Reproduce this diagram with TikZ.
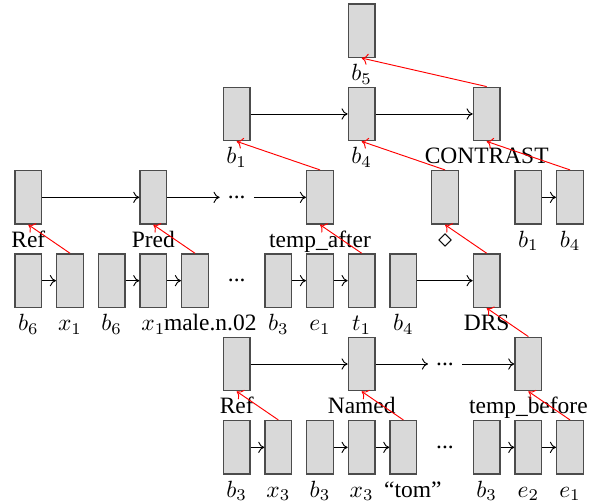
\documentclass[tikz,border=0pt]{standalone}
\usepackage{fontspec}
\setmainfont{Liberation Serif}
\usetikzlibrary{arrows.meta}
\begin{document}
\begin{tikzpicture}[x=17.76pt, y=-35.52pt,
  blk/.style={draw=black!70, line width=0.6pt, fill=black!15, minimum width=0.4cm, minimum height=0.8cm, inner sep=0pt},
  lab/.style={anchor=base, inner sep=0pt},
  dotsnode/.style={inner sep=3.33pt},
  link/.style={-{To[length=2.6pt,width=4.8pt]}},
  up/.style={-{To[length=2.6pt,width=4.8pt]}, red}]
\useasboundingbox (-0.6804,-0.368) rectangle (13.527,5.656);

% ---- row 0
\node[blk] (b5) at (8,0) {};
% ---- row 1
\node[blk] (r1a) at (5,1) {};
\node[blk] (r1b) at (8,1) {};
\node[blk] (r1c) at (11,1) {};
% ---- row 2
\node[blk] (ref1) at (0,2) {};
\node[blk] (pred) at (3,2) {};
\node[dotsnode] (d2) at (5,2) {...};
\node[blk] (tafter) at (7,2) {};
\node[blk] (dia) at (10,2) {};
\node[blk] (cb1) at (12,2) {};
\node[blk] (cb4) at (13,2) {};
% ---- row 3
\node[blk] (a0) at (0,3) {};
\node[blk] (a1) at (1,3) {};
\node[blk] (a2) at (2,3) {};
\node[blk] (a3) at (3,3) {};
\node[blk] (a4) at (4,3) {};
\node[dotsnode] (d3) at (5,3) {...};
\node[blk] (a6) at (6,3) {};
\node[blk] (a7) at (7,3) {};
\node[blk] (a8) at (8,3) {};
\node[blk] (a9) at (9,3) {};
\node[blk] (drs) at (11,3) {};
% ---- row 4
\node[blk] (ref2) at (5,4) {};
\node[blk] (named) at (8,4) {};
\node[dotsnode] (d4) at (10,4) {...};
\node[blk] (tbefore) at (12,4) {};
% ---- row 5
\node[blk] (c5) at (5,5) {};
\node[blk] (c6) at (6,5) {};
\node[blk] (c7) at (7,5) {};
\node[blk] (c8) at (8,5) {};
\node[blk] (c9) at (9,5) {};
\node[dotsnode] (d5) at (10,5) {...};
\node[blk] (c11) at (11,5) {};
\node[blk] (c12) at (12,5) {};
\node[blk] (c13) at (13,5) {};

% ---- labels under the boxes
\node[lab] (lb5) at ([yshift=-9.6pt]b5.south) {$b_5$};
\node[lab] (lr1a) at ([yshift=-9.6pt]r1a.south) {$b_1$};
\node[lab] (lr1b) at ([yshift=-9.6pt]r1b.south) {$b_4$};
\node[lab] (lr1c) at ([yshift=-9.6pt]r1c.south) {CONTRAST};
\node[lab] (lref1) at ([yshift=-9.6pt]ref1.south) {Ref};
\node[lab] (lpred) at ([yshift=-9.6pt]pred.south) {Pred};
\node[lab] (ltafter) at ([yshift=-9.6pt]tafter.south) {temp\_after};
\node[lab] (ldia) at ([yshift=-9.6pt]dia.south) {\scalebox{1.2}{$\diamond$}};
\node[lab] (lcb1) at ([yshift=-9.6pt]cb1.south) {$b_1$};
\node[lab] (lcb4) at ([yshift=-9.6pt]cb4.south) {$b_4$};
\node[lab] (la0) at ([yshift=-9.6pt]a0.south) {$b_6$};
\node[lab] (la1) at ([yshift=-9.6pt]a1.south) {$x_1$};
\node[lab] (la2) at ([yshift=-9.6pt]a2.south) {$b_6$};
\node[lab] (la3) at ([yshift=-9.6pt]a3.south) {$x_1$};
\node[lab] (la4) at ([xshift=6.5pt,yshift=-9.6pt]a4.south) {male.n.02};
\node[lab] (la6) at ([yshift=-9.6pt]a6.south) {$b_3$};
\node[lab] (la7) at ([yshift=-9.6pt]a7.south) {$e_1$};
\node[lab] (la8) at ([yshift=-9.6pt]a8.south) {$t_1$};
\node[lab] (la9) at ([yshift=-9.6pt]a9.south) {$b_4$};
\node[lab] (ldrs) at ([yshift=-9.6pt]drs.south) {DRS};
\node[lab] (lref2) at ([yshift=-9.6pt]ref2.south) {Ref};
\node[lab] (lnamed) at ([yshift=-9.6pt]named.south) {Named};
\node[lab] (ltbefore) at ([yshift=-9.6pt]tbefore.south) {temp\_before};
\node[lab] (lc5) at ([yshift=-9.6pt]c5.south) {$b_3$};
\node[lab] (lc6) at ([yshift=-9.6pt]c6.south) {$x_3$};
\node[lab] (lc7) at ([yshift=-9.6pt]c7.south) {$b_3$};
\node[lab] (lc8) at ([yshift=-9.6pt]c8.south) {$x_3$};
\node[lab] (lc9) at ([xshift=4pt,yshift=-9.6pt]c9.south) {``tom''};
\node[lab] (lc11) at ([yshift=-9.6pt]c11.south) {$b_3$};
\node[lab] (lc12) at ([yshift=-9.6pt]c12.south) {$e_2$};
\node[lab] (lc13) at ([yshift=-9.6pt]c13.south) {$e_1$};

% ---- sequence links
\draw[link] (r1a) -- (r1b);
\draw[link] (r1b) -- (r1c);
\draw[link] (ref1) -- (pred);
\draw[link] (pred) -- (d2);
\draw[link] (d2) -- (tafter);
\draw[link] (cb1) -- (cb4);
\draw[link] (a0) -- (a1);
\draw[link] (a2) -- (a3);
\draw[link] (a3) -- (a4);
\draw[link] (a6) -- (a7);
\draw[link] (a7) -- (a8);
\draw[link] (a9) -- (drs);
\draw[link] (ref2) -- (named);
\draw[link] (named) -- (d4);
\draw[link] (d4) -- (tbefore);
\draw[link] (c5) -- (c6);
\draw[link] (c7) -- (c8);
\draw[link] (c8) -- (c9);
\draw[link] (c11) -- (c12);
\draw[link] (c12) -- (c13);

% ---- links from a child to its parent
\draw[up] (r1c.north) -- (b5.south);
\draw[up] (tafter.north) -- (r1a.south);
\draw[up] (dia.north) -- (r1b.south);
\draw[up] (cb4.north) -- (r1c.south);
\draw[up] (a1.north) -- (ref1.south);
\draw[up] (a4.north) -- (pred.south);
\draw[up] (a8.north) -- (tafter.south);
\draw[up] (drs.north) -- (dia.south);
\draw[up] (tbefore.north) -- (drs.south);
\draw[up] (c6.north) -- (ref2.south);
\draw[up] (c9.north) -- (named.south);
\draw[up] (c13.north) -- (tbefore.south);
\end{tikzpicture}
\end{document}
